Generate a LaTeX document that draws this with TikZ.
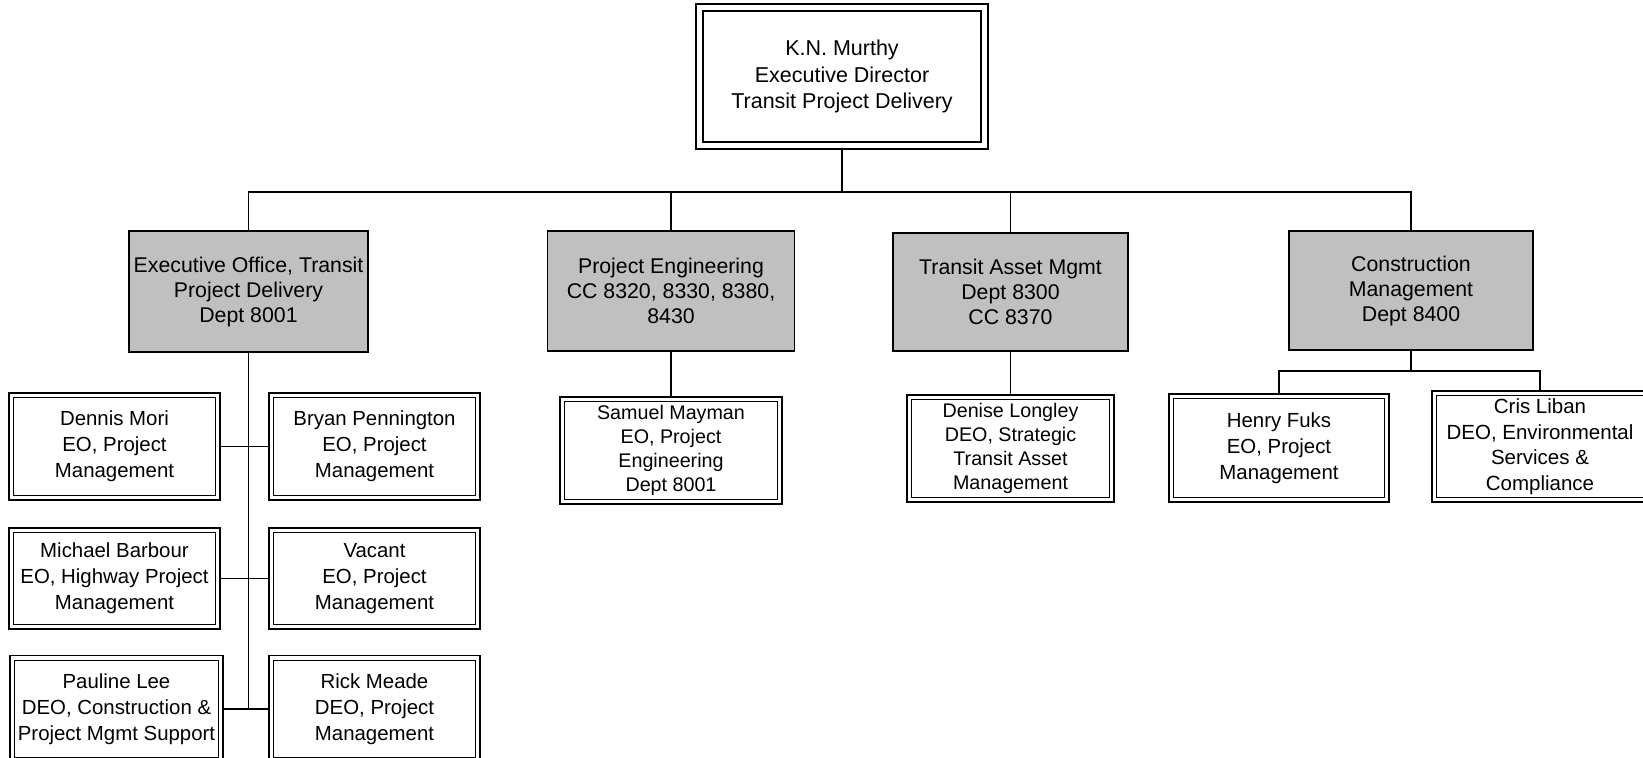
\documentclass[tikz,border=0pt]{standalone}
\usepackage{fontspec}
\setmainfont{Liberation Sans}
\usetikzlibrary{backgrounds}
\definecolor{boxgray}{HTML}{C0C0C0}
\tikzset{
  person/.style={draw, double, double distance=1.7pt, line width=0.65pt, inner sep=0pt,
    align=center, font=\fontsize{10.2}{13}\selectfont},
  persontight/.style={person, font=\fontsize{9.85}{11.9}\selectfont},
  dept/.style={draw, fill=boxgray, line width=0.7pt, inner sep=0pt, align=center,
    font=\fontsize{10.65}{12.5}\selectfont},
  link/.style={line width=0.75pt}
}
\begin{document}
\begin{tikzpicture}[x=0.5pt,y=-0.5pt]
\useasboundingbox (0,0) rectangle (1643,757);
% top
\node[person, double distance=2.85pt, minimum width=142.5pt, minimum height=69pt,
  font=\fontsize{10.75}{13.3}\selectfont] (top) at (842,76.5)
  {K.N. Murthy\\Executive Director\\Transit Project Delivery};
% departments
\node[dept, minimum width=119.5pt, minimum height=60.5pt] (g1) at (248.5,291.5)
  {Executive Office, Transit\\Project Delivery\\Dept 8001};
\node[dept, minimum width=123.5pt, minimum height=60pt] (g2) at (671,291)
  {Project Engineering\\CC 8320, 8330, 8380,\\8430};
\node[dept, minimum width=117.5pt, minimum height=59pt] (g3) at (1010.5,292)
  {Transit Asset Mgmt\\Dept 8300\\CC 8370};
\node[dept, minimum width=122pt, minimum height=59.5pt] (g4) at (1411,290.5)
  {Construction\\Management\\Dept 8400};
% group 1
\node[person, minimum width=103.15pt, minimum height=51.15pt] (dennis) at (114.5,446.5)
  {Dennis Mori\\EO, Project\\Management};
\node[person, minimum width=103.15pt, minimum height=51.15pt] (bryan) at (374.5,446.5)
  {Bryan Pennington\\EO, Project\\Management};
\node[person, minimum width=103.15pt, minimum height=48.15pt] (michael) at (114.5,578.5)
  {Michael Barbour\\EO, Highway Project\\Management};
\node[person, minimum width=103.15pt, minimum height=48.15pt] (vacant) at (374.5,578.5)
  {Vacant\\EO, Project\\Management};
\node[person, minimum width=104.15pt, minimum height=51.15pt] (pauline) at (116.5,709)
  {Pauline Lee\\DEO, Construction \&\\Project Mgmt Support};
\node[person, minimum width=103.15pt, minimum height=51.15pt] (rick) at (374.5,709)
  {Rick Meade\\DEO, Project\\Management};
% group 2, 3
\node[persontight, minimum width=108.65pt, minimum height=51.15pt] (samuel) at (671,450.5)
  {Samuel Mayman\\EO, Project\\Engineering\\Dept 8001};
\node[persontight, minimum width=101.15pt, minimum height=51.15pt] (denise) at (1010.5,448.5)
  {Denise Longley\\DEO, Strategic\\Transit Asset\\Management};
% group 4
\node[person, minimum width=107.65pt, minimum height=51.65pt] (henry) at (1279,448)
  {Henry Fuks\\EO, Project\\Management};
\node[person, minimum width=105.65pt, minimum height=53.15pt,
  font=\fontsize{10.25}{12.8}\selectfont] (cris) at (1540,446.5)
  {Cris Liban\\DEO, Environmental\\Services \&\\Compliance};
% connectors
\begin{pgfonlayer}{background}
\coordinate (bus) at (842,192);
\draw[link] (top.south) -- (bus);
\draw[link] (g1.north) -- (g1.north |- bus) -- (g4.north |- bus) -- (g4.north);
\draw[link] (g2.north) -- (g2.north |- bus);
\draw[link] (g3.north) -- (g3.north |- bus);
\draw[link] (g1.south) -- (g1.south |- pauline.east);
\draw[link] (dennis.east) -- (bryan.west);
\draw[link] (michael.east) -- (vacant.west);
\draw[link] (pauline.east) -- (rick.west);
\draw[link] (g2.south) -- (samuel.north);
\draw[link] (g3.south) -- (denise.north);
\coordinate (br4) at (1411,371);
\draw[link] (g4.south) -- (br4);
\draw[link] (henry.north) -- (henry.north |- br4) -- (cris.north |- br4) -- (cris.north);
\end{pgfonlayer}
\end{tikzpicture}
\end{document}
